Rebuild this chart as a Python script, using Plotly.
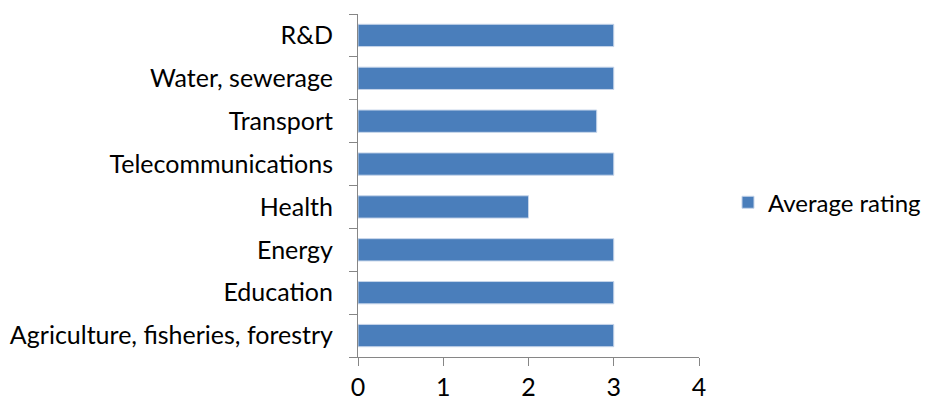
import plotly.graph_objects as go

categories = ["Agriculture, fisheries, forestry", "Education", "Energy", "Health",
              "Telecommunications", "Transport", "Water, sewerage", "R&D"]
values = [3, 3, 3, 2, 3, 2.8, 3, 3]
series_name = "Average rating"
x_ticks = [0, 1, 2, 3, 4]

FONT = "Lato"
FS = 25
AXIS = "#868686"
BAR = "#4a7ebb"

fig = go.Figure()
fig.add_trace(go.Bar(
    y=categories, x=values, orientation="h", name=series_name,
    marker=dict(color=BAR, line=dict(color="#c6d5ea", width=1)),
    showlegend=True,
))
fig.update_layout(
    width=922, height=393,
    margin=dict(l=350, r=231, t=6, b=44, autoexpand=False),
    plot_bgcolor="white", paper_bgcolor="white",
    bargap=0.48,
    font=dict(family=FONT, size=FS, color="#000000"),
    showlegend=True,
    legend=dict(x=1.085, y=0.45, xanchor="left", yanchor="middle",
                font=dict(family=FONT, size=FS - 1), itemwidth=30,
                bgcolor="rgba(0,0,0,0)"),
    xaxis=dict(range=[0, 4], tickvals=x_ticks, showgrid=False, zeroline=False,
               showline=True, linecolor=AXIS, linewidth=1,
               ticks="outside", ticklen=8, tickcolor=AXIS, tickwidth=1,
               tickfont=dict(family=FONT, size=FS), fixedrange=True,
               automargin=False),
    yaxis=dict(type="category", categoryorder="array", categoryarray=categories,
               showgrid=False, showline=True, linecolor=AXIS, linewidth=1,
               ticks="outside", ticklen=8, tickcolor=AXIS, tickwidth=1,
               tickson="boundaries", ticklabelstandoff=19,
               tickfont=dict(family=FONT, size=FS), fixedrange=True,
               automargin=False),
)
fig.write_html("out.html")
